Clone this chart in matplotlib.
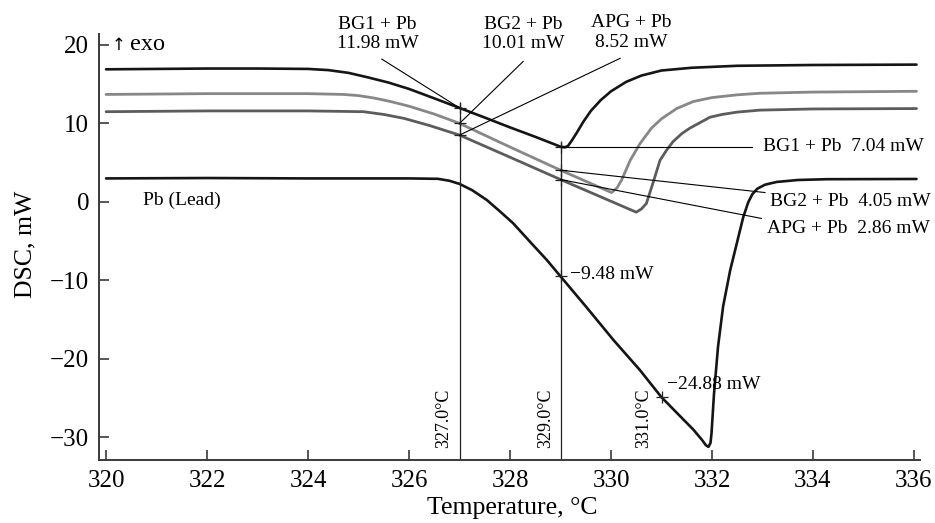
"""
DSC melting curves of lead and lead-containing samples (BG1, BG2, APG).
Saves out.png (~935x523 px).
"""

import matplotlib
import matplotlib.pyplot as plt

matplotlib.use('Agg')

# ---------------------------------------------------------------------------
# Data
# ---------------------------------------------------------------------------

bg1_t = [320.0, 321.0, 322.0, 323.0, 324.0, 324.4, 324.8, 325.2, 325.6, 326.0,
         326.5, 327.0, 327.5, 328.0, 328.5, 329.0, 329.09, 329.15, 329.22, 329.32,
         329.45, 329.6, 329.8, 330.0, 330.3, 330.6, 331.0, 331.6, 332.5, 334.0, 336.05]
bg1_dsc = [16.9, 16.95, 17.0, 17.0, 16.95, 16.8, 16.45, 15.85, 15.2, 14.4,
           13.2, 11.98, 10.75, 9.5, 8.3, 7.04, 6.97, 7.15, 7.8, 8.8,
           10.2, 11.6, 13.0, 14.1, 15.3, 16.1, 16.75, 17.1, 17.35, 17.45, 17.5]

bg2_t = [320.0, 322.0, 324.0, 324.7, 325.0, 325.3, 325.6, 326.0, 326.5, 327.0,
         328.0, 329.0, 330.01, 330.12, 330.21, 330.38, 330.57, 330.8, 331.0, 331.3,
         331.63, 332.0, 332.5, 332.95, 334.0, 336.05]
bg2_dsc = [13.7, 13.8, 13.8, 13.7, 13.55, 13.25, 12.85, 12.2, 11.2, 10.01,
           7.0, 4.05, 1.2, 1.8, 2.8, 5.3, 7.4, 9.4, 10.6, 11.9,
           12.8, 13.3, 13.65, 13.85, 14.0, 14.1]

apg_t = [320.0, 322.0, 324.0, 325.1, 325.5, 325.9, 326.4, 327.0, 328.0, 329.0,
         330.5, 330.6, 330.7, 330.84, 330.97, 331.1, 331.23, 331.4, 331.56, 331.96,
         332.2, 332.5, 332.95, 334.0, 336.05]
apg_dsc = [11.5, 11.6, 11.6, 11.5, 11.15, 10.65, 9.75, 8.52, 5.7, 2.86,
           -1.3, -0.9, -0.2, 2.6, 5.3, 6.6, 7.7, 8.7, 9.4, 10.8,
           11.15, 11.45, 11.7, 11.85, 11.9]

pb_t = [320.0, 322.0, 324.0, 326.0, 326.57, 326.8, 327.0, 327.25, 327.54, 327.8,
        328.06, 328.4, 328.73, 329.0, 329.5, 330.05, 330.57, 331.0, 331.63, 331.8,
        331.88, 331.93, 331.97, 331.99, 332.04, 332.12, 332.22, 332.36, 332.49, 332.62,
        332.72, 332.8, 332.9, 333.05, 333.28, 333.7, 334.27, 336.05]
pb_dsc = [3.0, 3.05, 3.0, 3.0, 2.95, 2.7, 2.3, 1.5, 0.25, -1.2,
          -2.7, -5.1, -7.4, -9.48, -13.3, -17.6, -21.4, -24.88, -29.0, -30.3,
          -31.0, -31.2, -30.7, -29.5, -24.4, -18.4, -13.3, -8.7, -5.3, -1.9,
          0.0, 1.0, 1.7, 2.2, 2.55, 2.8, 2.9, 2.93]

# marked points: (temperature, value)
mark_t = [327.0, 327.0, 327.0, 329.0, 329.0, 329.0, 329.0, 331.0]
mark_dsc = [11.98, 10.01, 8.52, 7.04, 4.05, 2.86, -9.48, -24.88]

x_ticks = [320, 322, 324, 326, 328, 330, 332, 334, 336]
y_ticks = [-30, -20, -10, 0, 10, 20]

FONT = ['Liberation Serif', 'DejaVu Serif']


def plot_dsc(out: str) -> None:
    plt.rcParams['font.family'] = FONT

    fig = plt.figure(figsize=(9.35, 5.23), dpi=100)
    ax = fig.add_axes([0.1059, 0.1205, 0.8781, 0.8145])

    style = dict(solid_joinstyle='round', solid_capstyle='round')
    ax.plot(bg1_t, bg1_dsc, color='#151515', lw=1.9, **style)
    ax.plot(bg2_t, bg2_dsc, color='#878787', lw=2.0, **style)
    ax.plot(apg_t, apg_dsc, color='#5c5c5c', lw=2.0, **style)
    ax.plot(pb_t, pb_dsc, color='#151515', lw=1.9, **style)

    # onset / reading lines
    ax.plot([327, 327], [-32.9, 12.6], color='#222222', lw=0.9)
    ax.plot([329, 329], [-32.9, 7.55], color='#222222', lw=0.9)
    ax.plot(mark_t, mark_dsc, ls='none', marker='+', ms=9, mew=0.9, color='#222222')

    # leaders to top labels
    lw_lead = 0.8
    ax.plot([325.46, 327.0], [18.2, 11.98], color='black', lw=lw_lead)
    ax.plot([328.26, 327.0], [17.9, 10.01], color='black', lw=lw_lead)
    ax.plot([330.18, 327.0], [18.3, 8.52], color='black', lw=lw_lead)
    # leaders to right labels
    ax.plot([329.0, 332.8], [7.04, 7.04], color='black', lw=lw_lead)
    ax.plot([329.0, 333.05], [4.05, 1.2], color='black', lw=lw_lead)
    ax.plot([329.0, 332.98], [2.86, -2.1], color='black', lw=lw_lead)

    fs = 14
    ax.text(325.38, 21.4, 'BG1 + Pb\n11.98 mW', ha='center', va='center', fontsize=fs)
    ax.text(328.26, 21.4, 'BG2 + Pb\n10.01 mW', ha='center', va='center', fontsize=fs)
    ax.text(330.41, 21.6, 'APG + Pb\n8.52 mW', ha='center', va='center', fontsize=fs)
    ax.text(333.01, 7.04, 'BG1 + Pb  7.04 mW', ha='left', va='center', fontsize=fs)
    ax.text(333.15, 0.04, 'BG2 + Pb  4.05 mW', ha='left', va='center', fontsize=fs)
    ax.text(333.08, -3.35, 'APG + Pb  2.86 mW', ha='left', va='center', fontsize=fs)
    ax.text(329.19, -9.3, '\u22129.48 mW', ha='left', va='center', fontsize=fs)
    ax.text(331.1, -23.3, '\u221224.88 mW', ha='left', va='center', fontsize=fs)
    ax.text(320.73, 0.25, 'Pb (Lead)', ha='left', va='center', fontsize=fs)
    ax.text(320.1, 20.0, '\u2191', ha='left', va='center', fontsize=12,
            family=['DejaVu Sans'])
    ax.text(320.48, 20.0, 'exo', ha='left', va='center', fontsize=17.5)

    for t, x in ((327.0, 326.69), (329.0, 328.71), (331.0, 330.64)):
        ax.text(x, -31.3, f'{t:.1f}\u00b0C', rotation=90, ha='center', va='bottom',
                fontsize=13)

    ax.set_xlim(319.86, 336.12)
    ax.set_ylim(-32.87, 21.4)
    ax.set_xticks(x_ticks)
    ax.set_yticks(y_ticks)
    ax.set_yticklabels([f'{v}'.replace('-', '\u2212') for v in y_ticks])

    for side in ('top', 'right'):
        ax.spines[side].set_visible(False)
    for side in ('left', 'bottom'):
        ax.spines[side].set_color('#3a3a3a')
        ax.spines[side].set_linewidth(1.4)
    ax.tick_params(direction='in', length=7, width=1.2, color='#3a3a3a',
                   labelsize=18, pad=7)

    ax.set_xlabel('Temperature, \u00b0C', fontsize=18.5)
    ax.set_ylabel('DSC, mW', fontsize=18.5)
    ax.xaxis.set_label_coords(0.503, -0.088)
    ax.yaxis.set_label_coords(-0.076, 0.505)

    fig.savefig(out, dpi=100)
    plt.close(fig)
    print(f'saved {out}')


def main() -> None:
    plot_dsc('out.png')


if __name__ == '__main__':
    main()
